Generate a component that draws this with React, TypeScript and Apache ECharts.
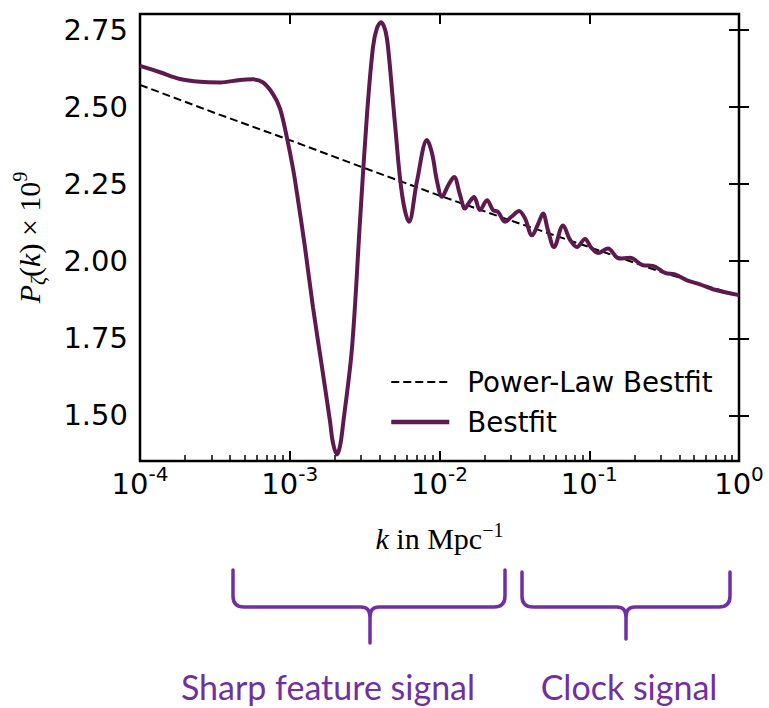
import React, { useEffect, useRef } from "react";
import * as echarts from "echarts";

// ---- Data ----
const kBest = [
  1.0e-4, 1.36e-4, 1.85e-4, 2.52e-4, 3.42e-4, 4.65e-4, 5.68e-4, 6.63e-4, 7.73e-4, 8.61e-4,
  9.58e-4, 1.052e-3, 1.118e-3, 1.264e-3, 1.43e-3, 1.642e-3, 1.857e-3, 1.945e-3, 2.068e-3, 2.166e-3,
  2.268e-3, 2.605e-3, 2.946e-3, 3.281e-3, 3.597e-3, 3.825e-3, 4.068e-3, 4.326e-3, 4.531e-3, 5.045e-3,
  5.617e-3, 6.254e-3, 7.075e-3, 8.255e-3, 8.914e-3, 9.623e-3, 1.039e-2, 1.14e-2, 1.25e-2, 1.371e-2,
  1.48e-2, 1.574e-2, 1.7e-2, 1.864e-2, 2.076e-2, 2.277e-2, 2.459e-2, 2.738e-2, 3.049e-2, 3.396e-2,
  3.724e-2, 4.147e-2, 4.548e-2, 4.911e-2, 5.303e-2, 5.815e-2, 6.681e-2, 7.437e-2, 8.282e-2, 9.367e-2,
  0.1027, 0.1144, 0.1334, 0.158, 0.1871, 0.2286, 0.2666, 0.3205, 0.3739, 0.4496,
  0.5494, 0.6703, 1.0,
];
const pBest = [
  2.634, 2.613, 2.591, 2.582, 2.58, 2.588, 2.59, 2.58, 2.542, 2.495,
  2.4, 2.3, 2.22, 2.045, 1.85, 1.656, 1.481, 1.41, 1.373, 1.4,
  1.47, 1.72, 2.131, 2.477, 2.695, 2.757, 2.775, 2.752, 2.695, 2.445,
  2.218, 2.128, 2.26, 2.393, 2.35, 2.26, 2.209, 2.245, 2.273, 2.215,
  2.171, 2.19, 2.208, 2.166, 2.198, 2.166, 2.16, 2.128, 2.146, 2.163,
  2.139, 2.084, 2.12, 2.155, 2.1, 2.046, 2.116, 2.07, 2.046, 2.072,
  2.045, 2.027, 2.041, 2.009, 2.011, 1.987, 1.985, 1.962, 1.957, 1.938,
  1.925, 1.909, 1.89,
];
const kPowerLaw = [1e-4, 3.162e-4, 1e-3, 3.162e-3, 1e-2, 3.162e-2, 0.1, 0.3162, 1];
const pPowerLaw = [2.572, 2.481, 2.393, 2.302, 2.213, 2.128, 2.046, 1.962, 1.888];

const yTicks = [1.5, 1.75, 2.0, 2.25, 2.5, 2.75];
const minorMultipliers = [2, 3, 4, 5, 6, 7, 8, 9];
const minorDecades = [-4, -3, -2, -1];
const seriesNames = ["Power-Law Bestfit", "Bestfit"];
const annotationLabels = ["Sharp feature signal", "Clock signal"];

const BRACE_LEFT =
  "M233,570 L233,596 Q233,607 244,607 L361,607 Q370,607 370,617 L370,643 M370,617 Q370,607 379,607 L494,607 Q505,607 505,596 L505,570";
const BRACE_RIGHT =
  "M522,572 L522,596 Q522,607 533,607 L617,607 Q626,607 626,617 L626,639 M626,617 Q626,607 635,607 L719,607 Q730,607 730,596 L730,572";

echarts.graphic.registerShape("braceLeft", echarts.graphic.extendPath(BRACE_LEFT, {}));
echarts.graphic.registerShape("braceRight", echarts.graphic.extendPath(BRACE_RIGHT, {}));

const LINE_COLOR = "#5e1a4e";
const NOTE_COLOR = "#7030a0";
const SANS = "DejaVu Sans";
const SERIF = "Liberation Serif";

export default function App() {
  const ref = useRef<HTMLDivElement>(null);

  useEffect(() => {
    document.body.style.margin = "0";
    if (!ref.current) return;
    const chart = echarts.init(ref.current, null, { renderer: "svg" });

    const minorTicks: number[] = [];
    minorDecades.forEach((d) => minorMultipliers.forEach((m) => minorTicks.push(d + Math.log10(m))));

    const bestData = kBest.map((k, i) => [k, pBest[i]]);
    const plData = kPowerLaw.map((k, i) => [k, pPowerLaw[i]]);

    const tickLine = { color: "#000", width: 2 };

    chart.setOption({
      animation: false,
      grid: {
        left: 140,
        top: 14,
        right: 30,
        bottom: 247,
        show: true,
        borderColor: "#000",
        borderWidth: 2.5,
        backgroundColor: "transparent",
      },
      legend: {
        data: [
          { name: seriesNames[0], lineStyle: { width: 2, type: [8, 4], color: "#000" } },
          { name: seriesNames[1], lineStyle: { width: 4.5, color: LINE_COLOR } },
        ],
        orient: "vertical",
        left: 384,
        top: 362,
        itemWidth: 58,
        itemHeight: 14,
        itemGap: 10,
        selectedMode: false,
        itemStyle: { opacity: 0, borderWidth: 0 },
        textStyle: {
          fontSize: 27.7,
          fontFamily: SANS,
          color: "#000",
          lineHeight: 30,
          padding: [0, 0, 0, 13],
        },
      },
      xAxis: [
        {
          type: "log",
          logBase: 10,
          min: 1e-4,
          max: 1,
          position: "bottom",
          axisLine: { show: false },
          splitLine: { show: false },
          axisTick: { inside: true, length: 10, lineStyle: tickLine },
          axisLabel: {
            margin: 3,
            formatter: (v: number) => `{b|10}{s|${Math.round(Math.log10(v))}}`,
            rich: {
              b: { fontSize: 29, fontFamily: SANS, color: "#000", lineHeight: 40 },
              s: { fontSize: 20, fontFamily: SANS, color: "#000", lineHeight: 20, verticalAlign: "top" },
            },
          },
          name: "{k|k}{n| in Mpc}{sup|−1}",
          nameLocation: "middle",
          nameGap: 59,
          nameTextStyle: {
            fontFamily: SERIF,
            fontSize: 30,
            color: "#000",
            rich: {
              k: { fontFamily: SERIF, fontSize: 30, fontStyle: "italic", color: "#000", lineHeight: 36 },
              n: { fontFamily: SERIF, fontSize: 30, color: "#000", lineHeight: 36 },
              sup: { fontFamily: SERIF, fontSize: 20, color: "#000", lineHeight: 19, verticalAlign: "top" },
            },
          },
        },
        {
          type: "value",
          min: -4,
          max: 0,
          position: "bottom",
          axisLine: { show: false },
          splitLine: { show: false },
          axisLabel: { show: false },
          axisTick: { inside: true, length: 6, lineStyle: { color: "#000", width: 1.5 }, customValues: minorTicks },
        },
        {
          type: "log",
          logBase: 10,
          min: 1e-4,
          max: 1,
          position: "top",
          axisLine: { show: false },
          splitLine: { show: false },
          axisLabel: { show: false },
          axisTick: { inside: true, length: 10, lineStyle: tickLine },
        },
      ],
      yAxis: [
        {
          type: "value",
          min: 1.352,
          max: 2.802,
          position: "left",
          axisLine: { show: false },
          splitLine: { show: false },
          axisTick: { inside: true, length: 10, lineStyle: tickLine, customValues: yTicks },
          axisLabel: {
            customValues: yTicks,
            formatter: (v: number) => v.toFixed(2),
            fontSize: 29,
            fontFamily: SANS,
            color: "#000",
            margin: 12,
          },
          name: "{p|P}{sub|ζ}{n|(}{k|k}{n|) × 10}{sup|9}",
          nameLocation: "middle",
          nameRotate: 90,
          nameGap: 92,
          nameTextStyle: {
            fontFamily: SERIF,
            fontSize: 30,
            color: "#000",
            rich: {
              p: { fontFamily: SERIF, fontSize: 30, fontStyle: "italic", color: "#000", lineHeight: 38 },
              sub: { fontFamily: SERIF, fontSize: 20, fontStyle: "italic", color: "#000", lineHeight: 14, verticalAlign: "bottom" },
              n: { fontFamily: SERIF, fontSize: 30, color: "#000", lineHeight: 38 },
              k: { fontFamily: SERIF, fontSize: 30, fontStyle: "italic", color: "#000", lineHeight: 38 },
              sup: { fontFamily: SERIF, fontSize: 20, color: "#000", lineHeight: 20, verticalAlign: "top" },
            },
          },
        },
        {
          type: "value",
          min: 1.352,
          max: 2.802,
          position: "right",
          axisLine: { show: false },
          splitLine: { show: false },
          axisLabel: { show: false },
          axisTick: { inside: true, length: 10, lineStyle: tickLine, customValues: yTicks },
        },
      ],
      series: [
        {
          name: seriesNames[0],
          type: "line",
          xAxisIndex: 0,
          yAxisIndex: 0,
          data: plData,
          symbol: "none",
          z: 2,
          lineStyle: { color: "#000", width: 2, type: [8, 4] },
          itemStyle: { color: "#000" },
        },
        {
          name: seriesNames[1],
          type: "line",
          xAxisIndex: 0,
          yAxisIndex: 0,
          data: bestData,
          symbol: "none",
          smooth: 0.35,
          z: 3,
          lineStyle: { color: LINE_COLOR, width: 4 },
          itemStyle: { color: LINE_COLOR },
        },
      ],
      graphic: [
        {
          type: "braceLeft",
          silent: true,
          style: { stroke: NOTE_COLOR, lineWidth: 3.5, fill: "none", lineCap: "round", lineJoin: "round" },
        },
        {
          type: "braceRight",
          silent: true,
          style: { stroke: NOTE_COLOR, lineWidth: 3.5, fill: "none", lineCap: "round", lineJoin: "round" },
        },
        {
          type: "text",
          x: 328,
          y: 686,
          silent: true,
          style: {
            text: annotationLabels[0],
            fill: NOTE_COLOR,
            font: "34px Lato",
            align: "center",
            verticalAlign: "middle",
          },
        },
        {
          type: "text",
          x: 629,
          y: 686,
          silent: true,
          style: {
            text: annotationLabels[1],
            fill: NOTE_COLOR,
            font: "34px Lato",
            align: "center",
            verticalAlign: "middle",
          },
        },
      ],
    });

    return () => chart.dispose();
  }, []);

  return <div ref={ref} style={{ width: 769, height: 708 }} />;
}
